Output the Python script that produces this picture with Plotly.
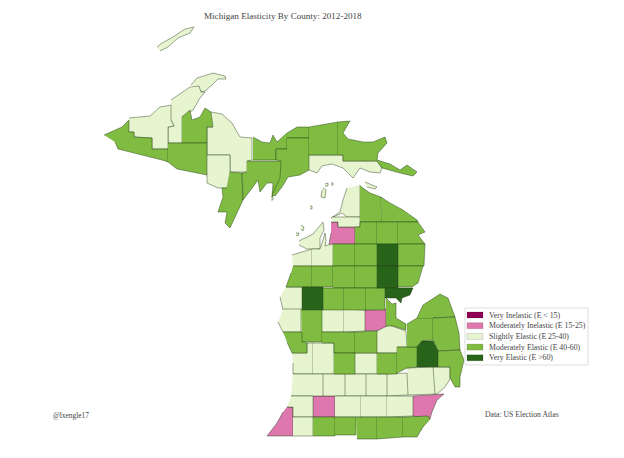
import plotly.graph_objects as go

isle_royale = [(157,47),(162,43),(173,37),(185,29),(194,27),(190,33),(178,38),(168,47),(160,51)]
keweenaw = [(191,85),(197,78),(213,73),(225,76),(226,79),(218,79),(212,85),(205,91),(200,92),(199,87)]
houghton = [(171,100),(190,87),(199,86),(201,92),(205,92),(200,98),(193,110),(182,117),(182,143),(168,143),(168,127),(174,126),(171,120)]
ontonagon = [(129,118),(150,116),(160,107),(171,105),(171,120),(174,126),(168,127),(168,149),(152,149),(152,138),(134,137),(134,132),(129,132)]
gogebic = [(104,135),(122,127),(129,120),(129,132),(134,132),(134,137),(152,138),(152,149),(168,149),(168,162),(162,160),(118,149),(115,142)]
baraga = [(182,117),(190,110),(192,120),(200,117),(205,108),(211,112),(213,127),(207,127),(207,143),(182,143)]
iron = [(168,143),(207,143),(207,175),(198,173),(177,169),(168,162)]
marquette = [(211,112),(222,114),(232,123),(240,137),(252,138),(252,160),(247,161),(247,172),(230,172),(230,155),(207,155),(207,127),(213,127)]
dickinson = [(207,155),(230,155),(230,172),(227,188),(218,188),(207,183),(207,175)]
menominee = [(230,172),(242,173),(243,200),(237,213),(230,228),(225,223),(227,212),(218,212),(223,197),(222,188),(227,188)]
delta = [(247,161),(282,161),(282,177),(277,187),(272,197),(273,183),(267,183),(260,192),(258,180),(253,187),(243,200),(242,173),(247,172)]
alger = [(253,137),(262,142),(270,143),(273,135),(277,142),(287,133),(297,127),(309,127),(309,138),(287,138),(287,149),(276,149),(276,160),(253,160)]
schoolcraft = [(287,138),(309,138),(309,170),(300,175),(288,177),(282,187),(275,196),(272,195),(280,178),(281,161),(276,160),(276,149),(287,149)]
luce = [(309,127),(338,122),(338,155),(309,155)]
chippewa = [(338,122),(350,121),(343,133),(348,139),(363,142),(373,142),(385,137),(387,143),(378,153),(377,160),(390,164),(400,170),(407,165),(417,172),(413,176),(400,173),(382,168),(377,161),(343,161),(343,155),(338,155)]
mackinac = [(309,155),(343,155),(343,161),(377,161),(382,168),(380,173),(370,172),(360,168),(353,178),(343,168),(332,164),(322,166),(317,173),(309,170)]

emmet = [(360,185),(360,217),(347,217),(342,213),(331,218),(340,212),(343,200),(347,188)]
charlevoix = [(332,217),(347,217),(360,217),(360,227),(338,227),(338,222),(332,222)]
beaver = [(323,188),(326,190),(325,198),(321,197),(322,190)]
bois_blanc = [(365,182),(377,187),(375,189),(367,187)]
north_manitou = [(301,225),(304,227),(303,231),(301,229)]
south_manitou = [(296,233),(299,233),(298,236),(296,235)]
garden_isle = [(325,184),(328,183),(328,186),(325,186)]
high_isle = [(331,183),(333,183),(333,185),(331,185)]
hog_isle = [(310,206),(312,206),(312,209),(310,209)]
summer_isle = [(271,197),(273,197),(273,200),(271,200)]
cheboygan = [(360,186),(370,193),(381,197),(382,222),(360,222)]
presque_isle = [(381,197),(385,200),(390,203),(403,210),(417,220),(418,222),(382,222)]
otsego = [(355,227),(360,227),(360,222),(377,222),(377,244),(355,244)]
montmorency = [(377,222),(398,222),(398,244),(377,244)]
alpena = [(398,222),(418,222),(425,232),(418,235),(425,244),(398,244)]
antrim = [(331,222),(338,222),(338,227),(355,227),(355,244),(333,244),(333,247),(329,244),(331,233)]
leelanau = [(299,241),(313,234),(323,222),(324,230),(320,238),(320,249),(307,249),(299,245)]
benzie = [(292,255),(312,249),(312,266),(293,266)]
grand_traverse = [(312,249),(320,249),(323,240),(325,233),(326,241),(325,246),(328,245),(333,244),(333,266),(312,266)]
kalkaska = [(333,244),(355,244),(355,266),(333,266)]
crawford = [(355,244),(377,244),(377,266),(355,266)]
oscoda = [(377,244),(398,244),(398,266),(377,266)]
alcona = [(398,244),(425,244),(424,266),(398,266)]
manistee = [(293,266),(312,266),(312,287),(286,287),(291,273)]
wexford = [(312,266),(333,266),(333,287),(312,287)]
missaukee = [(333,266),(355,266),(355,288),(333,288)]
roscommon = [(355,266),(377,266),(377,288),(355,288)]
ogemaw = [(377,266),(398,266),(398,288),(377,288)]
iosco = [(398,266),(423,266),(418,283),(412,287),(398,287)]
mason = [(286,287),(302,287),(302,310),(283,310),(280,297)]
lake = [(302,287),(323,287),(323,310),(302,310)]
osceola = [(323,288),(344,288),(344,310),(323,310)]
clare = [(344,288),(366,288),(366,310),(344,310)]
gladwin = [(366,288),(385,288),(385,310),(366,310)]
arenac = [(385,288),(413,288),(410,295),(402,298),(401,303),(396,298),(385,298)]
bay = [(386,298),(392,304),(396,303),(396,318),(406,324),(406,330),(393,326),(386,326)]
midland = [(365,310),(386,309),(386,330),(365,331)]
oceana = [(283,309),(301,309),(301,332),(283,332),(278,322)]
newaygo = [(301,309),(322,309),(322,342),(302,342)]
mecosta = [(322,309),(344,309),(344,332),(322,332)]
isabella = [(344,309),(365,310),(365,331),(344,332)]
muskegon = [(283,332),(302,332),(302,342),(307,343),(307,353),(292,353),(287,342)]
ottawa = [(292,353),(307,353),(307,343),(313,343),(313,374),(293,374),(293,363)]
kent = [(313,343),(334,343),(334,374),(313,374)]
montcalm = [(322,332),(355,332),(355,353),(334,353),(334,343),(322,343)]
ionia = [(334,353),(355,353),(355,374),(334,374)]
gratiot = [(355,332),(377,331),(377,353),(355,353)]
clinton = [(355,353),(377,353),(377,374),(355,374)]
shiawassee = [(377,353),(397,353),(397,374),(377,374)]
saginaw = [(377,331),(389,325),(406,331),(407,347),(397,347),(397,353),(377,353)]
genesee = [(397,347),(417,347),(417,367),(407,368),(397,373)]
tuscola = [(407,324),(417,318),(433,318),(433,340),(422,341),(417,347),(407,347)]
huron = [(417,318),(423,305),(440,294),(448,298),(455,317),(433,318)]
sanilac = [(433,318),(455,317),(459,333),(460,350),(438,351),(433,340)]
lapeer = [(417,347),(422,341),(433,341),(438,351),(438,367),(417,367)]
st_clair = [(438,351),(460,350),(464,360),(460,377),(460,387),(455,387),(450,378),(450,367),(438,367)]
macomb = [(433,367),(450,367),(450,379),(445,387),(437,394),(434,394)]
oakland = [(407,368),(433,367),(435,394),(408,395)]
livingston = [(387,374),(407,373),(408,395),(387,396)]
ingham = [(366,374),(387,374),(387,396),(366,396)]
eaton = [(345,374),(366,374),(366,396),(345,396)]
barry = [(323,374),(345,374),(345,396),(323,396)]
allegan = [(293,374),(323,374),(323,396),(291,396)]
van_buren = [(291,396),(313,396),(313,417),(293,417),(293,407),(287,407)]
kalamazoo = [(313,396),(335,396),(335,417),(313,417)]
calhoun = [(335,396),(361,396),(361,417),(335,417)]
jackson = [(361,396),(387,396),(387,417),(361,417)]
washtenaw = [(387,396),(413,396),(413,416),(387,417)]
wayne = [(413,396),(444,394),(437,400),(432,412),(430,419),(413,416)]
berrien = [(287,407),(293,407),(293,436),(267,436),(277,423),(283,412)]
cass = [(293,417),(313,417),(313,436),(293,436)]
st_joseph = [(313,417),(335,417),(335,436),(313,436)]
branch = [(335,417),(356,417),(356,435),(335,435)]
hillsdale = [(356,417),(377,417),(377,439),(357,439)]
lenawee = [(377,417),(403,417),(403,437),(377,439)]
monroe = [(403,417),(428,416),(430,419),(423,427),(417,437),(403,437)]

very_inelastic = []
mod_inelastic = [antrim, midland, kalamazoo, wayne, berrien]
slightly_elastic = [isle_royale, keweenaw, houghton, ontonagon, marquette, dickinson, mackinac, emmet,
                    charlevoix, beaver, bois_blanc, north_manitou, south_manitou, garden_isle, high_isle,
                    hog_isle, summer_isle, leelanau, benzie, grand_traverse, mason, oceana, mecosta,
                    isabella, ottawa, kent, clinton, saginaw, macomb, oakland, livingston, ingham, eaton,
                    barry, allegan, van_buren, calhoun, jackson, washtenaw, cass]
mod_elastic = [gogebic, baraga, iron, menominee, delta, alger, schoolcraft, luce, chippewa, cheboygan,
               presque_isle, otsego, montmorency, alpena, kalkaska, crawford, alcona, manistee, wexford,
               missaukee, roscommon, iosco, osceola, clare, gladwin, bay, newaygo, muskegon, montcalm,
               ionia, gratiot, shiawassee, genesee, tuscola, huron, sanilac, st_clair, st_joseph, branch,
               hillsdale, lenawee, monroe]
very_elastic = [oscoda, ogemaw, lake, arenac, lapeer]

groups = [very_inelastic, mod_inelastic, slightly_elastic, mod_elastic, very_elastic]
labels = ["Very Inelastic (E < 15)", "Moderately Inelastic (E 15-25)", "Slightly Elastic (E 25-40)",
          "Moderately Elastic (E 40-60)", "Very Elastic (E >60)"]
colors = ["#8e0152", "#de77ae", "#e6f5d0", "#7fbc41", "#276419"]

TEXT = "#444444"
FONT = "Liberation Serif"

fig = go.Figure()
for counties, label, color in zip(groups, labels, colors):
    for outline in counties:
        fig.add_trace(go.Scatter(
            x=[p[0] for p in outline], y=[p[1] for p in outline],
            mode="lines", fill="toself", fillcolor=color, name=label,
            line=dict(color="rgba(35,60,25,0.75)", width=0.6),
            showlegend=False, hoverinfo="name"))

# plotly legend rows can't get this tight, so the key is drawn by hand
fig.add_shape(type="rect", x0=465, x1=588, y0=308, y1=365, fillcolor="white",
              line=dict(color="#dddddd", width=1))
for i, (label, color) in enumerate(zip(labels, colors)):
    row = 315 + i * 10.7
    fig.add_shape(type="rect", x0=467, x1=483, y0=row - 3, y1=row + 3, fillcolor=color,
                  line=dict(color="rgba(0,0,0,0.25)", width=0.5))
    fig.add_annotation(x=486.5, y=row, text=label, xanchor="left", showarrow=False,
                       font=dict(size=7.8, color=TEXT, family=FONT))

fig.add_annotation(x=201.5, y=16, text="Michigan Elasticity By County: 2012-2018", xanchor="left",
                   showarrow=False, font=dict(size=9.1, color=TEXT, family=FONT))
fig.add_annotation(x=51, y=415, text="@lxengle17", xanchor="left", showarrow=False,
                   font=dict(size=7.4, color=TEXT, family=FONT))
fig.add_annotation(x=482.5, y=414, text="Data: US Election Atlas", xanchor="left", showarrow=False,
                   font=dict(size=7.7, color=TEXT, family=FONT))

# the page keeps its 8px body margin, so the axes start at 8 to line up with the window
fig.update_xaxes(visible=False, range=[8, 624], fixedrange=True)
fig.update_yaxes(visible=False, range=[458, 8], fixedrange=True)
fig.update_layout(width=616, height=450, margin=dict(l=0, r=0, t=0, b=0),
                  plot_bgcolor="white", paper_bgcolor="white", showlegend=False)

fig.write_html("out.html")
